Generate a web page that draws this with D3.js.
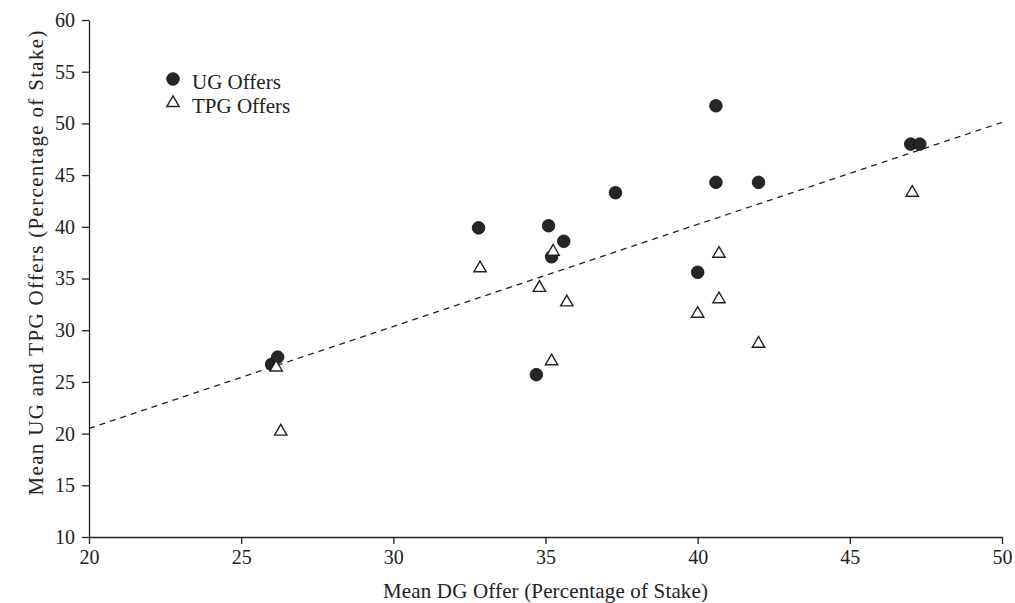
<!DOCTYPE html>
<html>
<head>
<meta charset="utf-8">
<script src="https://cdn.jsdelivr.net/npm/d3@7"></script>
<style>
	body { margin: 0; background: #fff; }
	text { font-family: "Liberation Serif", "DejaVu Serif", serif; fill: #222; }
</style>
</head>
<body>
<svg id="chart"></svg>
<script>
// values
var ugDG     = [26.0, 26.2, 32.8, 34.7, 35.1, 35.2, 35.6, 37.3, 40.0, 40.6, 40.6, 42.0, 47.0, 47.3];
var ugOffer  = [26.7, 27.4, 39.9, 25.7, 40.1, 37.1, 38.6, 43.3, 35.6, 51.7, 44.3, 44.3, 48.0, 48.0];
var tpgDG    = [26.15, 26.3, 32.85, 34.8, 35.2, 35.25, 35.7, 40.0, 40.7, 40.7, 42.0, 47.05];
var tpgOffer = [26.4, 20.2, 36.0, 34.1, 27.0, 37.6, 32.7, 31.6, 37.4, 33.0, 28.7, 43.3];

// fitted line, end points
var fitX = [20, 50];
var fitY = [20.5, 50.1];

var xTicks = [20, 25, 30, 35, 40, 45, 50];
var yTicks = [10, 15, 20, 25, 30, 35, 40, 45, 50, 55, 60];

var legendLabels = ["UG Offers", "TPG Offers"];

var width = 1015, height = 603;
var margin = { left: 89, right: 13, top: 20, bottom: 66 };

var svg = d3.select("#chart")
	.attr("width", width)
	.attr("height", height);

var x = d3.scaleLinear().domain([20, 50]).range([margin.left, width - margin.right]);
var y = d3.scaleLinear().domain([10, 60]).range([height - margin.bottom, margin.top]);

var xAxis = svg.append("g")
	.attr("transform", "translate(0," + y(10) + ")")
	.call(d3.axisBottom(x).tickValues(xTicks).tickSize(7).tickSizeOuter(0).tickPadding(6));

var yAxis = svg.append("g")
	.attr("transform", "translate(" + x(20) + ",0)")
	.call(d3.axisLeft(y).tickValues(yTicks).tickSize(7).tickSizeOuter(0).tickPadding(7));

[xAxis, yAxis].forEach(function(a) {
	a.selectAll("path, line").attr("stroke", "#222").attr("stroke-width", 1.3);
	a.selectAll("text").style("font-size", "20px").attr("fill", "#222");
});

// axis titles (garamond in the scan runs wider, so stretch the spacing)
svg.append("text")
	.attr("x", x(35))
	.attr("y", 598)
	.attr("text-anchor", "middle")
	.attr("textLength", 325)
	.attr("lengthAdjust", "spacing")
	.style("font-size", "21px")
	.text("Mean DG Offer (Percentage of Stake)");

svg.append("text")
	.attr("transform", "translate(43,263) rotate(-90)")
	.attr("text-anchor", "middle")
	.attr("textLength", 465)
	.attr("lengthAdjust", "spacing")
	.style("font-size", "21px")
	.text("Mean UG and TPG Offers (Percentage of Stake)");

// dashed fit line
svg.append("line")
	.attr("x1", x(fitX[0])).attr("y1", y(fitY[0]))
	.attr("x2", x(fitX[1])).attr("y2", y(fitY[1]))
	.attr("stroke", "#222")
	.attr("stroke-width", 1.3)
	.attr("stroke-dasharray", "6,5");

var tri = d3.symbol().type(d3.symbolTriangle).size(66);

svg.append("g").selectAll("circle")
	.data(d3.range(ugDG.length))
	.join("circle")
	.attr("cx", function(i) { return x(ugDG[i]); })
	.attr("cy", function(i) { return y(ugOffer[i]); })
	.attr("r", 6.3)
	.attr("fill", "#262626")
	.attr("stroke", "#111")
	.attr("stroke-width", 0.8);

svg.append("g").selectAll("path")
	.data(d3.range(tpgDG.length))
	.join("path")
	.attr("d", tri)
	.attr("transform", function(i) { return "translate(" + x(tpgDG[i]) + "," + y(tpgOffer[i]) + ")"; })
	.attr("fill", "#fff")
	.attr("stroke", "#222")
	.attr("stroke-width", 1.4);

// legend
var legend = svg.append("g").attr("transform", "translate(173,79)");
legend.append("circle")
	.attr("r", 6.3)
	.attr("fill", "#262626")
	.attr("stroke", "#111")
	.attr("stroke-width", 0.8);
legend.append("path")
	.attr("d", tri)
	.attr("transform", "translate(0,24)")
	.attr("fill", "#fff")
	.attr("stroke", "#222")
	.attr("stroke-width", 1.4);
legend.selectAll("text")
	.data(legendLabels)
	.join("text")
	.attr("x", 19)
	.attr("y", function(d, i) { return i * 24 + 10; })
	.style("font-size", "21px")
	.text(function(d) { return d; });
</script>
</body>
</html>
